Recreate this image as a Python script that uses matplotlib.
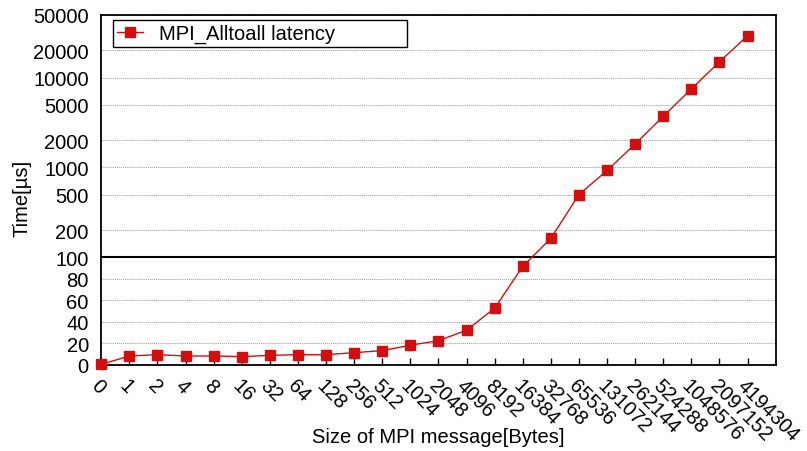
import numpy as np
import matplotlib
matplotlib.use('Agg')
import matplotlib.pyplot as plt

plt.rcParams['font.family'] = ['Liberation Sans', 'DejaVu Sans']

sizes = ['0', '1', '2', '4', '8', '16', '32', '64', '128', '256', '512', '1024',
         '2048', '4096', '8192', '16384', '32768', '65536', '131072', '262144',
         '524288', '1048576', '2097152', '4194304']
latency = [0.3, 8.1, 9.3, 8.1, 8.1, 7.5, 8.7, 9.3, 9.3, 11.2, 13.1, 18.1,
           22.4, 32.1, 52.7, 91.6, 163, 500, 926, 1824, 3705, 7480, 14960, 29170]
yticks = [0, 20, 40, 60, 80, 100, 200, 500, 1000, 2000, 5000, 10000, 20000, 50000]

# linear below 100, log above (broken axis look)
K = 0.838

def fwd(v):
    v = np.asarray(v, dtype=float)
    with np.errstate(divide='ignore', invalid='ignore'):
        lg = 1 + K * np.log10(np.maximum(v, 1e-9) / 100)
    return np.where(v <= 100, v / 100, lg)

def inv(y):
    y = np.asarray(y, dtype=float)
    with np.errstate(over='ignore'):
        ex = 100 * 10 ** ((y - 1) / K)
    return np.where(y <= 1, y * 100, ex)

W, H = 807, 452
fig = plt.figure(figsize=(W / 100, H / 100), dpi=100)
ax = fig.add_axes([0.1255, 0.191, 0.8357, 0.7743])
ax.set_yscale('function', functions=(fwd, inv))

x = np.arange(len(sizes))
ax.plot(x, latency, '-s', color='#d10f0f', lw=1, ms=7.5, clip_on=False, zorder=3,
        label='MPI_Alltoall latency')
ax.axhline(100, color='black', lw=1.5, zorder=2)

ax.set_xlim(0, 24)
ax.set_ylim(0, 50000)
ax.set_xticks(x)
ax.set_xticklabels(sizes, rotation=-45, ha='left', va='top', rotation_mode='anchor')
ax.set_yticks(yticks)
ax.set_yticklabels([str(t) for t in yticks])
ax.tick_params(axis='both', labelsize=14.5, direction='in', length=5, width=1)
ax.tick_params(axis='y', length=0, pad=9)
ax.tick_params(axis='x', pad=8)
ax.grid(axis='y', color='#999999', ls=(0, (1, 1)), lw=0.7)
for s in ax.spines.values():
    s.set_linewidth(1.3)

fig.text(22 / W, 1 - 198 / H, 'Time[µs]', fontsize=14.5, rotation=90,
         ha='center', va='center')
fig.text(438 / W, 1 - 438 / H, 'Size of MPI message[Bytes]', fontsize=14.5,
         ha='center', va='center')

leg = ax.legend(loc='upper left', bbox_to_anchor=(0.017, 0.985, 0.437, 0.0), mode='expand',
                borderaxespad=0, fancybox=False, edgecolor='black', framealpha=1,
                fontsize=14.5, borderpad=0.2, handlelength=1.3, handletextpad=0.8)
leg.get_frame().set_linewidth(1)

fig.savefig('out.png', dpi=100)
